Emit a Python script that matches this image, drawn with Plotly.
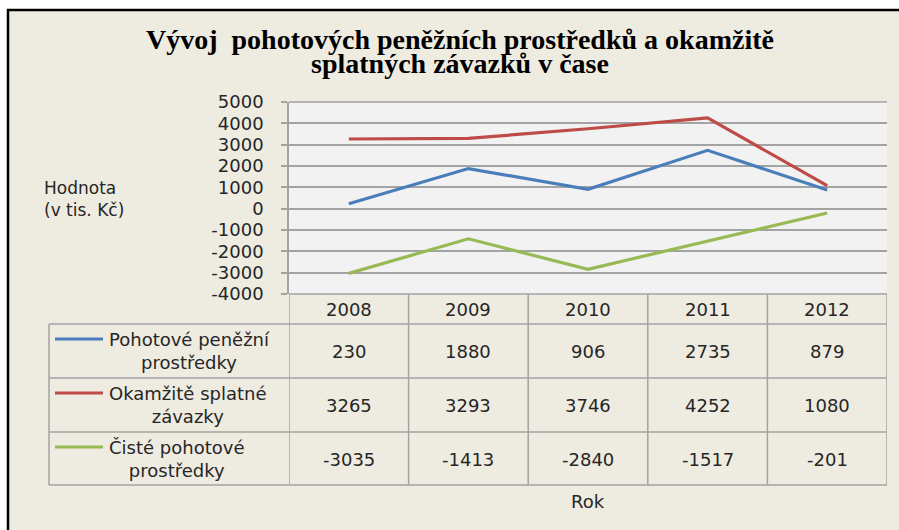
import plotly.graph_objects as go

# ---------------- data ----------------
years = ["2008", "2009", "2010", "2011", "2012"]
series_names = ["Pohotové peněžní prostředky",
                "Okamžitě splatné závazky",
                "Čisté pohotové prostředky"]
table_labels = ["Pohotové peněžní<br>prostředky",
                "Okamžitě splatné<br>závazky",
                "Čisté pohotové<br>prostředky"]
pohotove = [230, 1880, 906, 2735, 879]
okamzite = [3265, 3293, 3746, 4252, 1080]
ciste = [-3035, -1413, -2840, -1517, -201]
y_ticks = [5000, 4000, 3000, 2000, 1000, 0, -1000, -2000, -3000, -4000]
title_lines = ["Vývoj  pohotových peněžních prostředků a okamžitě",
               "splatných závazků v čase"]
y_title = "Hodnota<br>(v tis. Kč)"
x_title = "Rok"

series_values = [pohotove, okamzite, ciste]
colors = ["#4A7EBB", "#BE4B48", "#98B954"]

# ---------------- layout geometry ----------------
FW, FH = 899, 530
L, R, T, B = 289, 887, 102, 294
W, H = R - L, B - T


def px(x):
    return (x - L) / W


def py(y):
    return (B - y) / H


FONT = "DejaVu Sans"
TXT = "#262626"
GRID = "#A3A3A3"

fig = go.Figure()
for name, vals, col in zip(series_names, series_values, colors):
    fig.add_trace(go.Scatter(x=list(range(len(years))), y=vals, name=name,
                             mode="lines", line=dict(color=col, width=3.2),
                             showlegend=False))

shapes = []
# chart background with black frame
shapes.append(dict(type="rect", xref="paper", yref="paper",
                   x0=px(8), x1=px(910), y0=py(10), y1=py(545),
                   fillcolor="#EEEBE1", line=dict(color="black", width=2.5),
                   layer="below"))
# plot area background
shapes.append(dict(type="rect", xref="paper", yref="paper",
                   x0=0, x1=1, y0=0, y1=1,
                   fillcolor="#F2F2F2", line=dict(width=0), layer="below"))
# top gridline
shapes.append(dict(type="line", xref="paper", yref="paper",
                   x0=0, x1=1, y0=1, y1=1, line=dict(color=GRID, width=1.5)))

# data table
row_tops = [324, 378, 432]
row_bot = 485
n = len(years)
shapes.append(dict(type="line", xref="paper", yref="paper",
                   x0=0, x1=1, y0=0, y1=0, line=dict(color=GRID, width=1.5)))
for yy in row_tops + [row_bot]:
    shapes.append(dict(type="line", xref="paper", yref="paper",
                       x0=px(49), x1=1, y0=py(yy), y1=py(yy),
                       line=dict(color=GRID, width=1.5)))
for k in range(n + 1):
    shapes.append(dict(type="line", xref="x", yref="paper",
                       x0=k - 0.5, x1=k - 0.5, y0=0, y1=py(row_bot),
                       line=dict(color=GRID, width=1.5)))
shapes.append(dict(type="line", xref="paper", yref="paper",
                   x0=px(49), x1=px(49), y0=py(row_tops[0]), y1=py(row_bot),
                   line=dict(color=GRID, width=1.5)))
# legend keys
for top, col in zip(row_tops, colors):
    shapes.append(dict(type="line", xref="paper", yref="paper",
                       x0=px(55), x1=px(103), y0=py(top + 15), y1=py(top + 15),
                       line=dict(color=col, width=3.2)))

annotations = []
# title
for txt, yc in zip(title_lines, [40, 64]):
    annotations.append(dict(xref="paper", yref="paper", x=px(460), y=py(yc),
                            text="<b>" + txt + "</b>", showarrow=False,
                            xanchor="center", yanchor="middle",
                            font=dict(family="Liberation Serif", size=28,
                                      color="black")))
# y title
annotations.append(dict(xref="paper", yref="paper", x=px(42), y=py(199),
                        text=y_title, showarrow=False, align="left",
                        xanchor="left", yanchor="middle",
                        font=dict(family=FONT, size=17, color=TXT)))
# year headers
for i, yr in enumerate(years):
    annotations.append(dict(xref="x", yref="paper", x=i, y=py(309), text=yr,
                            showarrow=False, xanchor="center", yanchor="middle",
                            font=dict(family=FONT, size=18, color=TXT)))
# rows
for top, lab, vals in zip(row_tops, table_labels, series_values):
    yc = top + 27
    annotations.append(dict(xref="paper", yref="paper", x=px(107), y=py(yc),
                            text=lab, showarrow=False, align="center",
                            xanchor="left", yanchor="middle",
                            font=dict(family=FONT, size=18, color=TXT)))
    for i, v in enumerate(vals):
        annotations.append(dict(xref="x", yref="paper", x=i, y=py(yc),
                                text=str(v), showarrow=False,
                                xanchor="center", yanchor="middle",
                                font=dict(family=FONT, size=18, color=TXT)))
# x title
annotations.append(dict(xref="x", yref="paper", x=(n - 1) / 2, y=py(501),
                        text=x_title, showarrow=False, xanchor="center",
                        yanchor="middle",
                        font=dict(family=FONT, size=18, color=TXT)))

fig.update_layout(
    width=FW, height=FH,
    margin=dict(l=L, r=FW - R, t=T, b=FH - B, pad=0),
    paper_bgcolor="white", plot_bgcolor="rgba(0,0,0,0)",
    shapes=shapes, annotations=annotations,
    xaxis=dict(range=[-0.5, n - 0.5], showticklabels=False, showgrid=False,
               zeroline=False, showline=False, ticks=""),
    yaxis=dict(range=[y_ticks[-1], y_ticks[0]], tickvals=y_ticks,
               ticktext=[str(t) for t in y_ticks],
               showgrid=True, gridcolor=GRID, gridwidth=1.5,
               zeroline=False, showline=True, linecolor=GRID, linewidth=1.5,
               ticks="outside", ticklen=6, tickcolor=GRID, tickwidth=1.5,
               ticklabelstandoff=14,
               tickfont=dict(family=FONT, size=18, color=TXT)),
    font=dict(family=FONT, color=TXT),
)

fig.write_html("out.html",
               config={"displayModeBar": False},
               post_script="document.body.style.margin='0px';"
                           "document.body.style.overflow='hidden';")
